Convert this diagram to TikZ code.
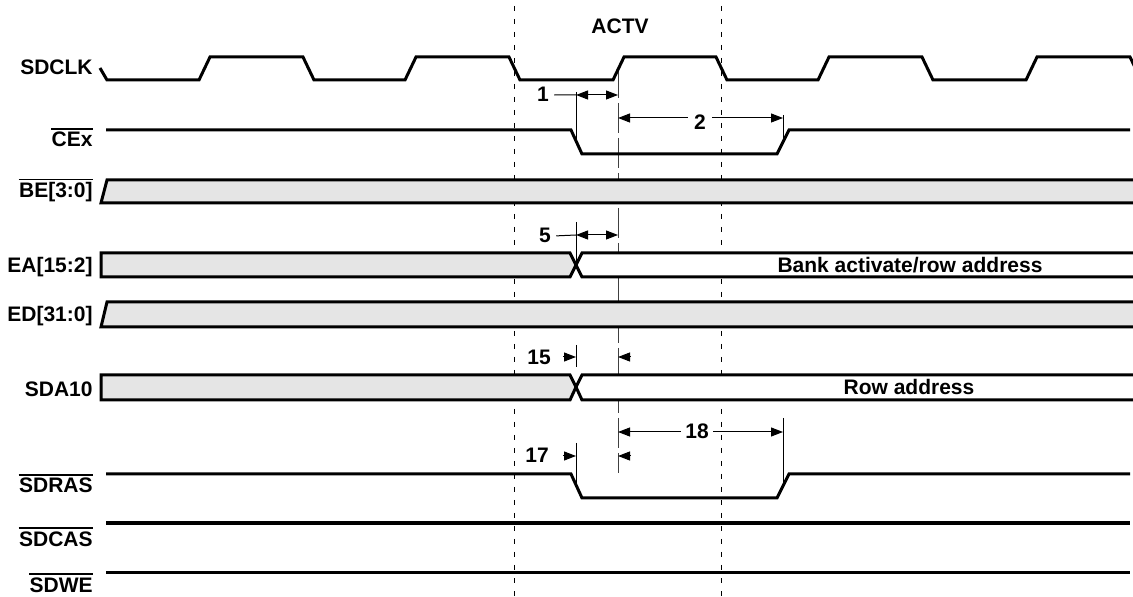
\documentclass[tikz,border=0pt]{standalone}
\usepackage{fontspec}
\setmainfont{Liberation Sans}
\usetikzlibrary{arrows.meta}
\definecolor{busgrey}{gray}{0.9}
\newcommand\lblfont{\fontsize{10.5}{12.6}\selectfont\bfseries}

\begin{document}
\begin{tikzpicture}[x=0.5pt,y=-0.5pt]
\tikzset{
  siglabel/.style={anchor=base east,inner sep=0pt,font=\lblfont},
  tlabel/.style={anchor=base,inner sep=0pt,font=\lblfont},
  overbar/.style={line width=0.8pt},
  wave/.style={line width=1.5pt},
  bus/.style={line width=1.5pt,fill=busgrey},
  openbus/.style={line width=1.5pt,fill=white},
  grid/.style={line width=0.5pt,dash pattern=on 2.5pt off 4pt},
  refline/.style={line width=0.5pt,black!75,dash pattern=on 15pt off 2.5pt},
  tick/.style={line width=0.5pt},
  lead/.style={line width=0.5pt},
  tarrow/.style={line width=0.5pt,-{Triangle[length=6pt,width=4.5pt]}},
  tboth/.style={line width=0.5pt,{Triangle[length=6pt,width=4.5pt]}-{Triangle[length=6pt,width=4.5pt]}}
}
\clip (0,0) rectangle (1133,597);

% signal names
\node[siglabel] (l_clk) at (93,75) {SDCLK};
\node[siglabel] (l_ce) at (93,147) {CEx};
\node[siglabel] (l_be) at (93,198) {BE[3:0]};
\node[siglabel] (l_ea) at (93,273) {EA[15:2]};
\node[siglabel] (l_ed) at (93,322) {ED[31:0]};
\node[siglabel] (l_a10) at (93,397) {SDA10};
\node[siglabel] (l_ras) at (93,493) {SDRAS};
\node[siglabel] (l_cas) at (93,546) {SDCAS};
\node[siglabel] (l_we) at (93,592) {SDWE};
\foreach \n in {l_ce,l_be,l_ras,l_cas,l_we}
  \draw[overbar] ([yshift=1.5pt]\n.north west) -- ([yshift=1.5pt]\n.north east);

\node[tlabel] (actv) at (620,34) {ACTV};

% clock edges and reference line
\draw[grid] (514,6) -- (514,597);
\draw[grid] (721,6) -- (721,597);
\draw[refline] (618,68) -- (618,473);

% buses
\draw[bus] (1140,180) -- (107,180) -- (101,203) -- (1140,203);
\draw[bus] (576,265) -- (570,253) -- (101,253) -- (101,277) -- (570,277) -- cycle;
\draw[openbus] (576,265) -- (582,253) -- (1140,253) -- (1140,277) -- (582,277) -- cycle;
\draw[bus] (1140,302) -- (107,302) -- (101,327) -- (1140,327);
\draw[bus] (576,387) -- (570,375) -- (101,375) -- (101,400) -- (570,400) -- cycle;
\draw[openbus] (576,387) -- (582,375) -- (1140,375) -- (1140,400) -- (582,400) -- cycle;
\node[tlabel] (ea_val) at (910,273) {Bank activate/row address};
\node[tlabel] (a10_val) at (909,395) {Row address};

% waveforms
\draw[wave] (100,68) -- (107,80)
  \foreach \r/\f in {199/303,405/509,613/716,818/922,1026/1130} {
    -- (\r,80) -- (\r+11,57) -- (\f,57) -- (\f+11,80) };
\draw[wave] (106,130) -- (571,130) -- (582,154) -- (777,154) -- (789,130) -- (1130,130);
\draw[wave] (106,474) -- (571,474) -- (582,498) -- (777,498) -- (789,474) -- (1130,474);
\draw[wave] (106,523) -- (1130,523);
\draw[wave] (106,572) -- (1130,572);

% timing 1 and 2
\node[tlabel] (d1) at (543,102) {1};
\coordinate (d1a) at (576,95);
\coordinate (d1b) at (618,95);
\draw[tick] (576,92) -- (576,143);
\draw[lead] ([xshift=2.5pt]d1.east) -- (d1a);
\draw[tboth] (d1a) -- (d1b);
\coordinate (d2a) at (618,118);
\coordinate (d2b) at (783,118);
\draw[tick] (783,115) -- (783,143);
\draw[tboth] (d2a) -- (d2b);
\node[tlabel,fill=white,inner sep=3pt] (d2) at (700,130) {2};

% timing 5
\node[tlabel] (d5) at (545,243) {5};
\coordinate (d5a) at (576,235);
\coordinate (d5b) at (618,235);
\draw[tick] (576,222) -- (576,262);
\draw[lead] ([xshift=2.5pt]d5.east) -- (d5a);
\draw[tboth] (d5a) -- (d5b);

% timing 15
\node[tlabel] (d15) at (539,365) {15};
\draw[tick] (576,345) -- (576,367);
\draw[tarrow] (563,357) -- (576,357);
\draw[tarrow] (630,357) -- (618,357);

% timing 17 and 18
\node[tlabel] (d17) at (537,463) {17};
\draw[tick] (576,443) -- (576,488);
\draw[tarrow] (563,456) -- (576,456);
\draw[tarrow] (630,456) -- (618,456);
\coordinate (d18a) at (618,432);
\coordinate (d18b) at (783,432);
\draw[tick] (783,418) -- (783,488);
\draw[tboth] (d18a) -- (d18b);
\node[tlabel,fill=white,inner sep=2pt] (d18) at (697,439) {18};
\end{tikzpicture}
\end{document}
